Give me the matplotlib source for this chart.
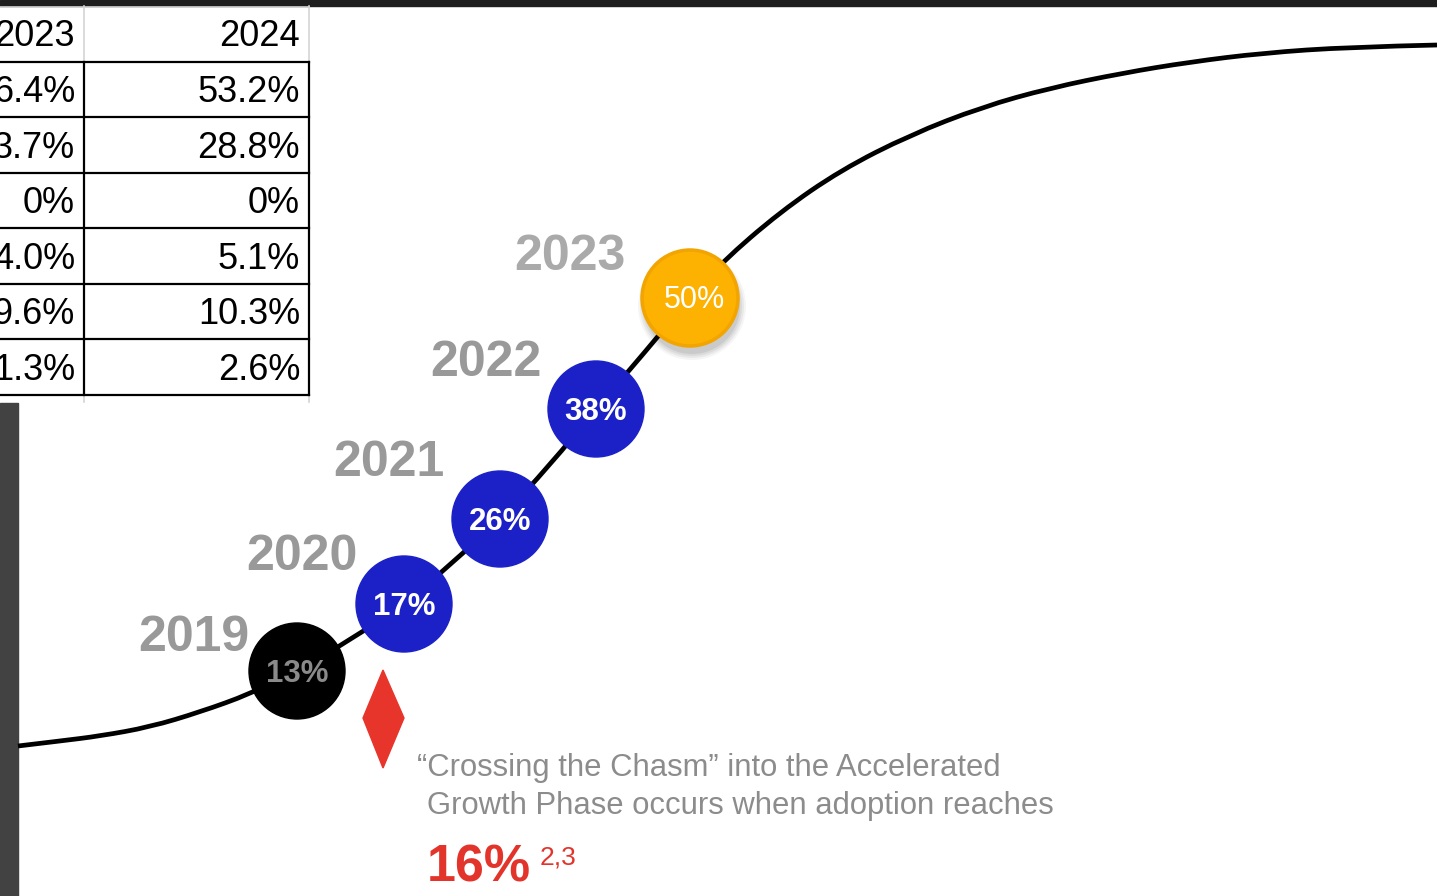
import numpy as np
import matplotlib
matplotlib.use("Agg")
import matplotlib.pyplot as plt
from matplotlib.patches import Circle, Polygon, Rectangle, PathPatch
from matplotlib.path import Path

plt.rcParams['font.family'] = ['Liberation Sans', 'DejaVu Sans']

# adoption curve, traced in picture units (x right, y down)
curve_x = [18, 60, 100, 150, 200, 250, 297, 350, 404, 450, 500, 550, 596, 645,
           690, 721, 780, 841, 910, 982, 1050, 1123, 1190, 1263, 1350, 1437]
curve_y = [746, 741, 736, 727, 712, 694, 671, 640, 604, 565, 519, 465, 409, 352,
           298, 263, 212, 170, 135, 107, 88, 73, 62, 53, 47, 45]

years = ["2019", "2020", "2021", "2022", "2023"]
adoption = ["13%", "17%", "26%", "38%", "50%"]
dot_x = [297, 404, 500, 596, 690]

# partial table in the top left corner
table_head = ["2023", "2024"]
col_2023 = ["6.4%", "3.7%", "0%", "4.0%", "9.6%", "1.3%"]
col_2024 = ["53.2%", "28.8%", "0%", "5.1%", "10.3%", "2.6%"]

W, H = 1437, 896
fig = plt.figure(figsize=(W / 100, H / 100), dpi=100)
ax = fig.add_axes([0, 0, 1, 1])
ax.set_xlim(0, W)
ax.set_ylim(H, 0)
ax.axis('off')

# frame bits from the screenshot
ax.add_patch(Rectangle((0, 0), W, 6, color='#1e1e1e', zorder=1))
ax.add_patch(Rectangle((0, 403), 18, H - 403, color='#424242', zorder=1))

# table
row_top = 62
row_h = 55.5
col_l, col_m, col_r = 0, 84, 309
n = len(col_2024)
ax.plot([col_m, col_m], [6, row_top], color='#d4d4d4', lw=1.2, zorder=2)
ax.plot([col_r, col_r], [6, row_top], color='#d4d4d4', lw=1.2, zorder=2)
ax.plot([col_l, col_r], [7, 7], color='#d4d4d4', lw=1.2, zorder=2)
ax.plot([col_m, col_m], [row_top + n * row_h, 402], color='#d4d4d4', lw=1.2, zorder=2)
ax.plot([col_r, col_r], [row_top + n * row_h, 402], color='#d4d4d4', lw=1.2, zorder=2)
for i in range(n + 1):
    yy = row_top + i * row_h
    ax.plot([col_l, col_r], [yy, yy], color='black', lw=1.6, zorder=3)
ax.plot([col_m, col_m], [row_top, row_top + n * row_h], color='black', lw=1.6, zorder=3)
ax.plot([col_r, col_r], [row_top, row_top + n * row_h], color='black', lw=1.6, zorder=3)
ax.text(col_m - 9, 37, table_head[0], ha='right', va='center', fontsize=26, color='black')
ax.text(col_r - 9, 37, table_head[1], ha='right', va='center', fontsize=26, color='black')
for i in range(n):
    yc = row_top + (i + 0.5) * row_h + 3
    ax.text(col_m - 9, yc, col_2023[i], ha='right', va='center', fontsize=26, color='black')
    ax.text(col_r - 9, yc, col_2024[i], ha='right', va='center', fontsize=26, color='black')

# curve: traced points used as quadratic bezier controls, midpoints as anchors
pts = list(zip(curve_x, curve_y))
verts = [pts[0]]
codes = [Path.MOVETO]
for k in range(1, len(pts) - 1):
    mid = ((pts[k][0] + pts[k + 1][0]) / 2, (pts[k][1] + pts[k + 1][1]) / 2)
    if k == len(pts) - 2:
        mid = pts[-1]
    verts += [pts[k], mid]
    codes += [Path.CURVE3, Path.CURVE3]
ax.add_patch(PathPatch(Path(verts, codes), fill=False, edgecolor='black', lw=3.4,
                       capstyle='butt', zorder=4))

# dots on the curve
dot_y = np.interp(dot_x, curve_x, curve_y)
r = 48
fills = ['black', '#1b21c6', '#1b21c6', '#1b21c6', '#fdb100']
txt_cols = ['#8a8a8a', 'white', 'white', 'white', 'white']
year_cols = ['#999999', '#999999', '#999999', '#999999', '#aaaaaa']
year_dx = [-103, -102, -111, -110, -120]
year_dy = [-33, -47, -56, -46, -41]
for i in range(len(years)):
    x, y = dot_x[i], dot_y[i]
    if i == 4:
        for k, a in enumerate([0.04, 0.05, 0.06, 0.07]):
            ax.add_patch(Circle((x + 2, y + 8), r + 6 - k * 2, color='black', alpha=a,
                                lw=0, zorder=5))
        ax.add_patch(Circle((x, y), r, facecolor=fills[i], edgecolor='#f2a400', lw=2.5,
                            zorder=6))
        ax.text(x + 4, y + 2, adoption[i], ha='center', va='center', fontsize=22,
                color=txt_cols[i], zorder=7)
    else:
        ax.add_patch(Circle((x, y), r, color=fills[i], zorder=6))
        ax.text(x, y + 3, adoption[i], ha='center', va='center', fontsize=22.5,
                fontweight='bold', color=txt_cols[i], zorder=7)
    ax.text(x + year_dx[i], y + year_dy[i], years[i], ha='center', va='center',
            fontsize=36, fontweight='bold', color=year_cols[i], zorder=7)

# chasm marker
ax.add_patch(Polygon([[383, 670], [404, 718], [383, 768], [363, 718]], closed=True,
                     color='#e8352b', zorder=6))
ax.text(417, 768, "\u201cCrossing the Chasm\u201d into the Accelerated", ha='left',
        va='center', fontsize=22.3, color='#8c8c8c')
ax.text(427, 806, "Growth Phase occurs when adoption reaches", ha='left',
        va='center', fontsize=22.3, color='#8c8c8c')
ax.text(427, 868, "16%", ha='left', va='center', fontsize=37.5, fontweight='bold',
        color='#e3342b')
ax.text(540, 858, "2,3", ha='left', va='center', fontsize=19, color='#e3342b')

fig.savefig("out.png", dpi=100)
